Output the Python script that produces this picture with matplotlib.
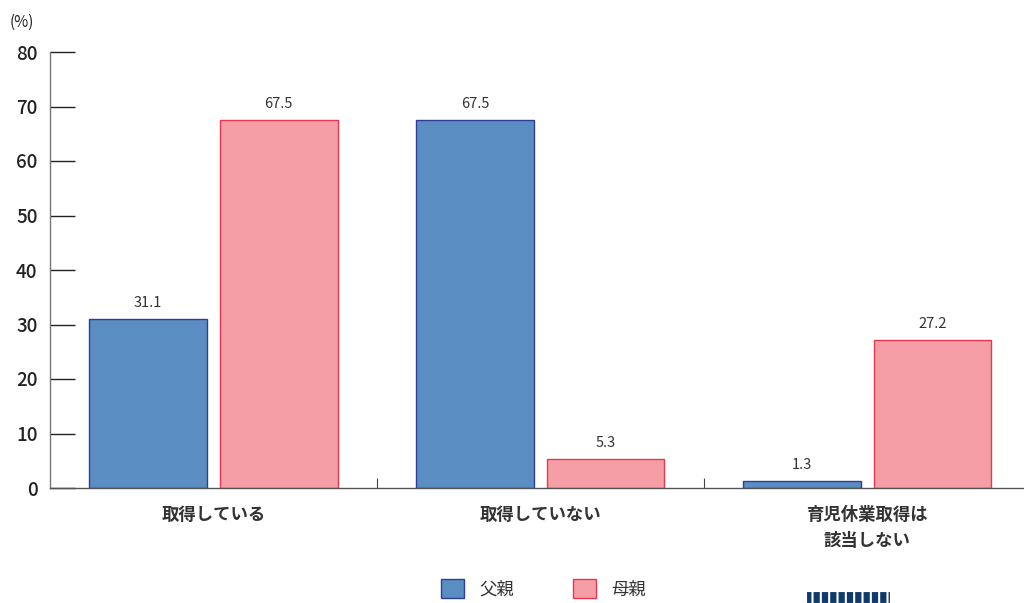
import matplotlib
matplotlib.use('Agg')
import matplotlib.pyplot as plt
from matplotlib.patches import Patch, Rectangle
import numpy as np

plt.rcParams['font.family'] = ['Noto Sans CJK JP', 'DejaVu Sans']

categories = ['取得している', '取得していない', '育児休業取得は\n該当しない']
father = [31.1, 67.5, 1.3]
mother = [67.5, 5.3, 27.2]
series_names = ['父親', '母親']
yticks = [0, 10, 20, 30, 40, 50, 60, 70, 80]

blue = '#5a8ec2'
blue_edge = '#2d3f95'
pink = '#f59ea5'
pink_edge = '#e8384f'
txt = '#333333'

fig = plt.figure(figsize=(10.24, 6.03), dpi=100)
ax = fig.add_axes([50/1024, 1-488/603, 1-50/1024, (488-52)/603])

x = np.arange(len(categories))
w = 0.36
off = 0.2
b1 = ax.bar(x - off, father, w, color=blue, edgecolor=blue_edge, linewidth=1)
b2 = ax.bar(x + off, mother, w, color=pink, edgecolor=pink_edge, linewidth=1)

for bars, vals in ((b1, father), (b2, mother)):
    for b, v in zip(bars, vals):
        ax.text(b.get_x() + b.get_width()/2, v + 1.6, f'{v:.1f}',
                ha='center', va='bottom', fontsize=10.5, color=txt)

ax.set_xlim(-0.5, 2.48)
ax.set_ylim(0, 80)
ax.set_yticks(yticks)
ax.set_yticklabels([str(t) for t in yticks], fontsize=13.5, color='#222222', fontweight='medium')
ax.yaxis.set_tick_params(direction='in', length=18, width=1, color='#222222', pad=9)

ax.set_xticks(x)
ax.set_xticklabels(categories, fontsize=12.5, color=txt, fontweight='bold', linespacing=1.55)
ax.xaxis.set_tick_params(length=0, pad=13)
ax.set_xticks([0.5, 1.5], minor=True)
ax.xaxis.set_tick_params(which='minor', direction='in', length=7, width=0.8, color='#444444')

for s in ('top', 'right'):
    ax.spines[s].set_visible(False)
ax.spines['left'].set_color('#777777')
ax.spines['bottom'].set_color('#555555')
ax.spines['left'].set_linewidth(1)
ax.spines['bottom'].set_linewidth(1)

fig.text(10/1024, 1-22/603, '(%)', fontsize=11, color='#222222', va='center', ha='left')

handles = [Patch(facecolor=blue, edgecolor=blue_edge),
           Patch(facecolor=pink, edgecolor=pink_edge)]
fig.legend(handles, series_names, loc='upper left', bbox_to_anchor=(436/1024, 1-574/603),
           ncol=2, frameon=False, fontsize=12.5, handlelength=1.3, handleheight=1.3,
           columnspacing=3.4, handletextpad=0.9, labelcolor=txt, borderaxespad=0, borderpad=0.3)

plt.rcParams['hatch.linewidth'] = 1.5
fig.patches.append(Rectangle((806/1024, 0), 84/1024, 12/603, transform=fig.transFigure,
                             facecolor='#0f3a6e', edgecolor='white', hatch='||', linewidth=0.8))

fig.savefig('out.png', dpi=100)
